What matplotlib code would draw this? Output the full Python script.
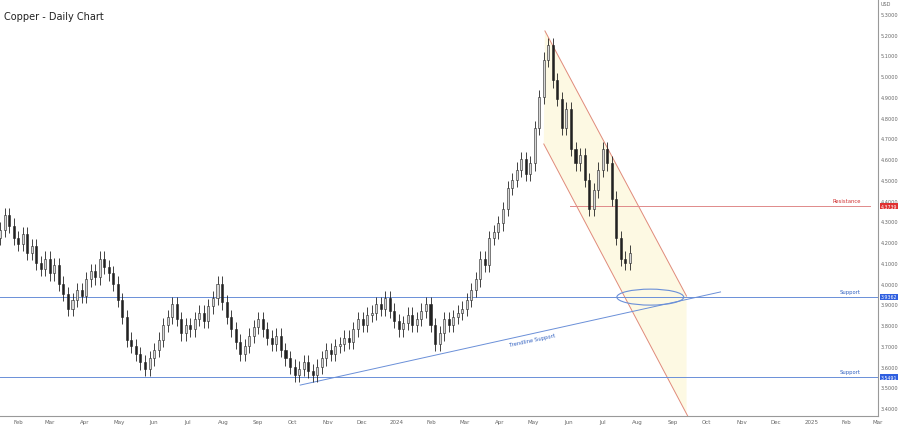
import numpy as np
import pandas as pd
import matplotlib.pyplot as plt
from matplotlib.patches import Ellipse, Polygon

# closing prices, one every 4 calendar days starting 2023-01-16
start = pd.Timestamp('2023-01-16')
step = 4
closes = [4.26, 4.33, 4.28, 4.22, 4.19, 4.24, 4.15, 4.18, 4.10, 4.07,
          4.12, 4.05, 4.09, 4.00, 3.95, 3.88, 3.92, 3.97, 3.94, 4.02,
          4.06, 4.03, 4.12, 4.08, 4.05, 4.00, 3.92, 3.84, 3.73, 3.70,
          3.66, 3.62, 3.59, 3.64, 3.68, 3.73, 3.80, 3.84, 3.90, 3.83,
          3.76, 3.80, 3.78, 3.83, 3.86, 3.82, 3.89, 3.93, 4.00, 3.91,
          3.84, 3.78, 3.72, 3.66, 3.70, 3.75, 3.79, 3.83, 3.78, 3.74,
          3.71, 3.75, 3.68, 3.64, 3.60, 3.56, 3.59, 3.62, 3.58, 3.56,
          3.60, 3.64, 3.68, 3.66, 3.70, 3.71, 3.74, 3.72, 3.78, 3.83,
          3.80, 3.85, 3.86, 3.90, 3.88, 3.93, 3.87, 3.82, 3.78, 3.81,
          3.85, 3.80, 3.83, 3.87, 3.90, 3.80, 3.71, 3.76, 3.83, 3.80,
          3.84, 3.86, 3.88, 3.92, 3.97, 4.02, 4.12, 4.09, 4.22, 4.25,
          4.29, 4.36, 4.46, 4.50, 4.55, 4.60, 4.53, 4.58, 4.75, 4.90,
          5.08, 5.15, 4.98, 4.89, 4.75, 4.84, 4.65, 4.58, 4.62, 4.50,
          4.36, 4.45, 4.55, 4.65, 4.58, 4.41, 4.22, 4.12, 4.10, 4.15]
first_open = 4.22
wick = 0.035

support_hi = 3.9362
support_lo = 3.5491
resistance = 4.3739
resistance_from = 503
trend_x = [265, 636]
trend_y = [3.511, 3.960]
chan_upper_x = [481, 606]
chan_upper_y = [5.218, 3.940]
chan_lower_x = [480, 607.5]
chan_lower_y = [4.673, 3.357]
ellipse_c = (574, 3.935)

plt.rcParams['font.family'] = ['DejaVu Sans']
fig = plt.figure(figsize=(9, 4.27), dpi=100)
ax = fig.add_axes([0, 10 / 427, 878 / 900, 417 / 427])
xmax = 768
ax.set_xlim(0, xmax)
ax.set_ylim(3.362, 5.372)

x = np.arange(len(closes)) * step
opens = [first_open] + closes[:-1]
for xi, o, c in zip(x, opens, closes):
    hi, lo = max(o, c) + wick, min(o, c) - wick
    ax.vlines(xi, lo, hi, color='#222222', lw=0.6, zorder=3)
    col = '#222222' if c < o else '#d8d8d8'
    ax.bar(xi, abs(c - o) if abs(c - o) > 0.005 else 0.005, bottom=min(o, c),
           width=1.8, color=col, edgecolor='#222222', lw=0.4, zorder=4)

# channel
lx = np.array(chan_lower_x)
ly = np.array(chan_lower_y)
slope = (ly[1] - ly[0]) / (lx[1] - lx[0])
y_at = ly[0] + slope * (chan_upper_x[1] - lx[0])
poly = Polygon([(chan_upper_x[0], chan_upper_y[0]), (chan_upper_x[1], chan_upper_y[1]),
                (chan_upper_x[1], y_at), (lx[0], ly[0])],
               closed=True, facecolor='#fdf9e3', edgecolor='none', zorder=1)
ax.add_patch(poly)
ax.plot(chan_upper_x, chan_upper_y, color='#e08a7a', lw=0.7, zorder=2)
ax.plot(chan_lower_x, chan_lower_y, color='#e08a7a', lw=0.7, zorder=2)

blue = '#6a8fd8'
ax.axhline(support_hi, color=blue, lw=0.7, zorder=2)
ax.axhline(support_lo, color=blue, lw=0.7, zorder=2)
ax.plot([resistance_from, xmax], [resistance, resistance], color='#e08a8a', lw=0.7, zorder=2)
ax.plot(trend_x, trend_y, color=blue, lw=0.7, zorder=2)
ax.add_patch(Ellipse(ellipse_c, 59, 0.077, fill=False, edgecolor=blue, lw=0.8, zorder=5))

ax.text(760, resistance + 0.02, 'Resistance', color='#d03030', fontsize=3.8, ha='right')
ax.text(760, support_hi + 0.02, 'Support', color='#3060c0', fontsize=3.8, ha='right')
ax.text(760, support_lo + 0.02, 'Support', color='#3060c0', fontsize=3.8, ha='right')
ax.text(470, 3.73, 'Trendline Support', color='#3060c0', fontsize=3.8,
        rotation=12, ha='center', va='center')

# axes styling
for s in ['top', 'left']:
    ax.spines[s].set_visible(False)
ax.spines['right'].set_color('#999999')
ax.spines['bottom'].set_color('#999999')
ax.yaxis.tick_right()
yt = np.round(np.arange(3.4, 5.31, 0.1), 1)
ax.set_yticks(yt)
ax.set_yticklabels([f'{v:.4f}' for v in yt], fontsize=3.6, color='#666666')
ax.tick_params(axis='y', length=0, pad=2)
months = pd.date_range('2023-02-01', '2025-03-01', freq='MS')
ax.set_xticks([(m - start).days for m in months])
ax.set_xticklabels([str(m.year) if m.month == 1 else m.strftime('%b') for m in months],
                   fontsize=4, color='#666666')
ax.tick_params(axis='x', length=0, pad=2)

for val, col in [(resistance, '#e03030'), (support_hi, '#2f5fe0'), (support_lo, '#2f5fe0')]:
    ax.text(1.003, val, f'{val:.4f}', transform=ax.get_yaxis_transform(), fontsize=3.4,
            color='white', va='center', ha='left',
            bbox=dict(boxstyle='square,pad=0.15', fc=col, ec='none'), zorder=6)

fig.text(0.004, 0.96, 'Copper - Daily Chart', fontsize=7, color='#222222', va='center')
fig.text(0.978, 0.995, 'USD', fontsize=3.5, color='#666666', va='top')

fig.savefig('out.png', dpi=100)
